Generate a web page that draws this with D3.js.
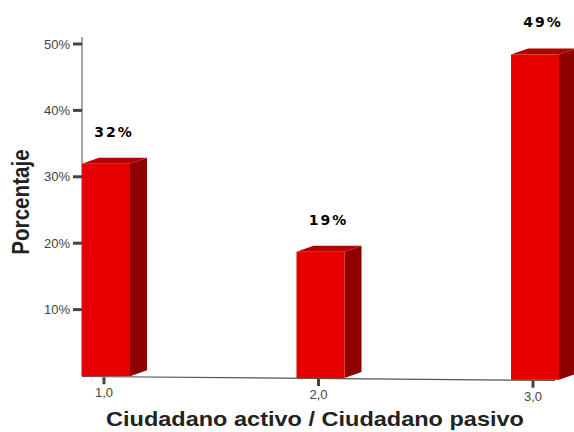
<!DOCTYPE html>
<html>
<head>
<meta charset="utf-8">
<script src="https://cdn.jsdelivr.net/npm/d3@7"></script>
<style>
  body { margin: 0; background: #fff; }
  svg { display: block; }
</style>
</head>
<body>
<div id="chart"></div>
<script>
// data
const categories = [1, 2, 3]
const values = [32, 19, 49]
const yTicks = [10, 20, 30, 40, 50]

const W = 574, H = 432

let svg = d3.select("#chart").append("svg")
  .attr("width", W)
  .attr("height", H)

// value axis: 0 at baseline, 10% ~ 66.4px
let y = d3.scaleLinear().domain([0, 50]).range([376, 44])
let x = d3.scaleLinear().domain([1, 3]).range([104, 533])

// baseline is slightly tilted (perspective)
const base = px => (px - 82) * 4 / 473
const depthX = 17, depthY = 6, barW = 48

// y axis line
svg.append("line")
  .attr("x1", 82).attr("x2", 82)
  .attr("y1", 37).attr("y2", 376)
  .attr("stroke", "#8a8a8a").attr("stroke-width", 1.5)

let yAxis = svg.append("g")
yAxis.selectAll("line").data(yTicks).join("line")
  .attr("x1", 73).attr("x2", 82)
  .attr("y1", d => y(d)).attr("y2", d => y(d))
  .attr("stroke", "#444").attr("stroke-width", 3)
yAxis.selectAll("text").data(yTicks).join("text")
  .attr("x", 70).attr("y", d => y(d) + 4.5)
  .attr("text-anchor", "end")
  .attr("font-family", "Liberation Sans, Arial, sans-serif")
  .attr("font-size", 13)
  .attr("fill", "#444")
  .text(d => d + "%")

// x axis line
svg.append("line")
  .attr("x1", 82).attr("y1", 376.5)
  .attr("x2", 555).attr("y2", 380.5)
  .attr("stroke", "#555").attr("stroke-width", 1.2)

let xAxis = svg.append("g")
xAxis.selectAll("line").data(categories).join("line")
  .attr("x1", d => x(d)).attr("x2", d => x(d))
  .attr("y1", d => 377 + base(x(d))).attr("y2", d => 384 + base(x(d)))
  .attr("stroke", "#444").attr("stroke-width", 3)
xAxis.selectAll("text").data(categories).join("text")
  .attr("x", d => x(d)).attr("y", d => 397 + base(x(d)))
  .attr("text-anchor", "middle")
  .attr("font-family", "Liberation Sans, Arial, sans-serif")
  .attr("font-size", 13)
  .attr("fill", "#444")
  .text(d => d3.format(".1f")(d).replace(".", ","))

// bars
let bars = svg.append("g").selectAll("g")
  .data(categories.map((c, i) => ({ c, v: values[i] })))
  .join("g")

bars.each(function(d) {
  let g = d3.select(this)
  let x0 = x(d.c) - 22, x1 = x0 + barW
  let b = base(x0 + barW / 2)
  let yb = y(0) + b, yt = y(d.v) + b
  // side face
  g.append("path")
    .attr("d", `M${x1},${yt} L${x1 + depthX},${yt - depthY} L${x1 + depthX},${yb - depthY} L${x1},${yb} Z`)
    .attr("fill", "#8e0000")
  // top face
  g.append("path")
    .attr("d", `M${x0},${yt} L${x0 + depthX},${yt - depthY} L${x1 + depthX},${yt - depthY} L${x1},${yt} Z`)
    .attr("fill", "#b00000")
  // front face
  g.append("rect")
    .attr("x", x0).attr("y", yt)
    .attr("width", barW).attr("height", yb - yt)
    .attr("fill", "#e60000")
  // value label
  g.append("text")
    .attr("x", x0 + barW / 2 + 8).attr("y", yt - 27)
    .attr("text-anchor", "middle")
    .attr("font-family", "DejaVu Sans, Verdana, sans-serif")
    .attr("font-weight", "bold")
    .attr("font-size", 14)
    .attr("letter-spacing", 2)
    .attr("fill", "#000")
    .text(d.v + "%")
})

// axis titles
svg.append("text")
  .attr("transform", "translate(29,202) rotate(-90) scale(0.86,1)")
  .attr("text-anchor", "middle")
  .attr("font-family", "Liberation Sans, Arial, sans-serif")
  .attr("font-weight", "bold")
  .attr("font-size", 24)
  .attr("fill", "#222")
  .text("Porcentaje")

svg.append("text")
  .attr("transform", "translate(315,426) scale(1.12,1)")
  .attr("text-anchor", "middle")
  .attr("font-family", "Liberation Sans, Arial, sans-serif")
  .attr("font-weight", "bold")
  .attr("font-size", 21)
  .attr("fill", "#222")
  .text("Ciudadano activo / Ciudadano pasivo")
</script>
</body>
</html>
